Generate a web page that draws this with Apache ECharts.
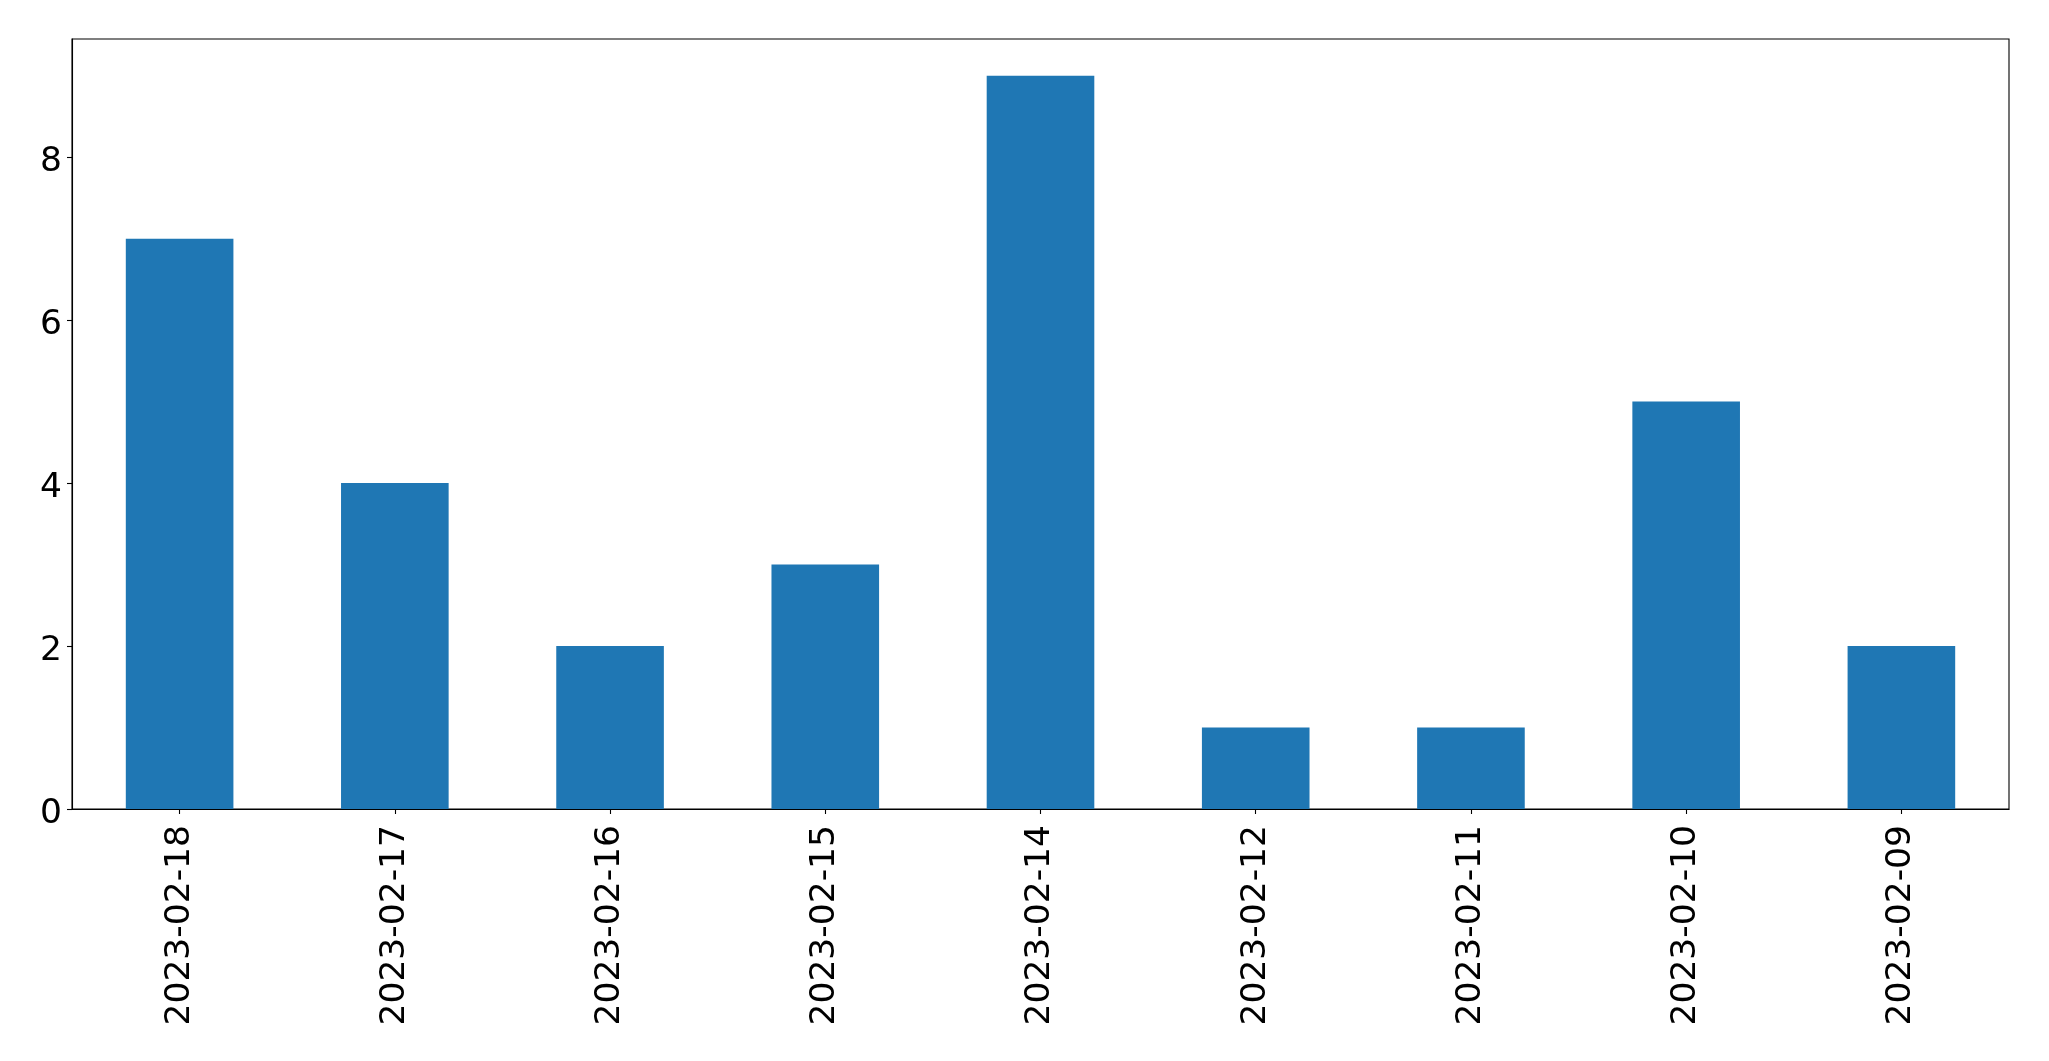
<!DOCTYPE html>
<html>
<head>
<meta charset="utf-8">
<script src="https://cdn.jsdelivr.net/npm/echarts@6/dist/echarts.min.js"></script>
<style>
html,body{margin:0;padding:0;background:#fff;}
#chart{width:2049px;height:1061px;}
</style>
</head>
<body>
<div id="chart"></div>
<script>
const categories = ['2023-02-18','2023-02-17','2023-02-16','2023-02-15','2023-02-14','2023-02-12','2023-02-11','2023-02-10','2023-02-09'];
const values = [7, 4, 2, 3, 9, 1, 1, 5, 2];
const yMin = 0;
const yMax = 9.45;
const yInterval = 2;

const chart = echarts.init(document.getElementById('chart'), null, {renderer: 'canvas'});
const font = 'DejaVu Sans';
chart.setOption({
  animation: false,
  backgroundColor: '#ffffff',
  grid: {
    left: 72, top: 39, width: 1937, height: 770,
    show: true, borderColor: '#000', borderWidth: 1.1, backgroundColor: 'transparent',
    containLabel: false
  },
  xAxis: {
    type: 'category',
    data: categories,
    boundaryGap: true,
    axisLine: {show: true, lineStyle: {color: '#000', width: 1.1}},
    axisTick: {show: true, alignWithLabel: true, length: 5, lineStyle: {color: '#000', width: 1.1}},
    axisLabel: {rotate: 90, margin: 16, fontSize: 34.5, fontFamily: font, color: '#000', interval: 0},
    splitLine: {show: false}
  },
  yAxis: {
    type: 'value',
    min: yMin, max: yMax, interval: yInterval,
    axisLine: {show: true, lineStyle: {color: '#000', width: 1.1}},
    axisTick: {show: true, length: 5, lineStyle: {color: '#000', width: 1.1}},
    axisLabel: {margin: 10, fontSize: 34.5, fontFamily: font, color: '#000', showMaxLabel: false, verticalAlign: 'top', lineHeight: 10},
    splitLine: {show: false}
  },
  series: [{
    type: 'bar',
    data: values,
    barWidth: '50%',
    itemStyle: {color: '#1f77b4'}
  }]
});
</script>
</body>
</html>
